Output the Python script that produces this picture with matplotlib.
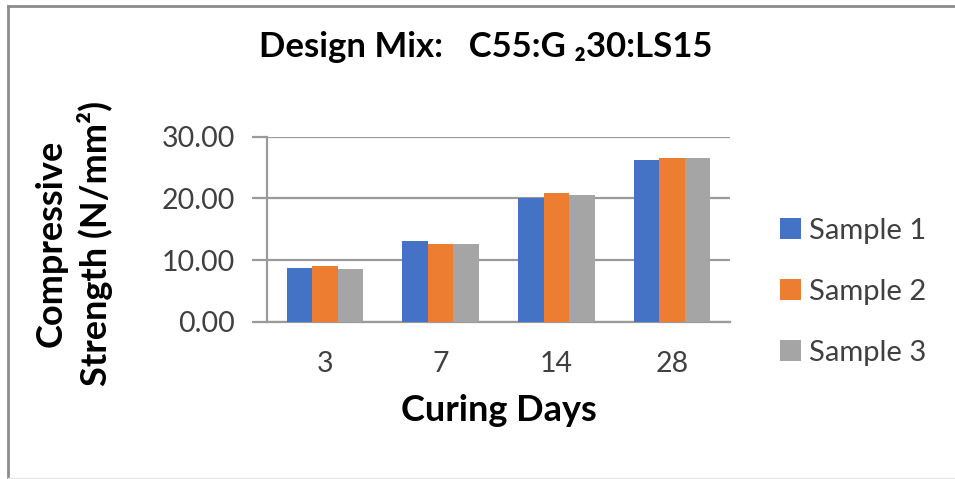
import matplotlib
matplotlib.use("Agg")
import matplotlib.pyplot as plt
import numpy as np
from matplotlib.lines import Line2D

plt.rcParams['font.family'] = ['Lato', 'DejaVu Sans']

# Data
curing_days = ["3", "7", "14", "28"]
series_names = ["Sample 1", "Sample 2", "Sample 3"]
sample_1 = [8.70, 13.10, 20.05, 26.15]
sample_2 = [9.10, 12.70, 20.90, 26.50]
sample_3 = [8.65, 12.70, 20.50, 26.50]
y_ticks = [0, 10, 20, 30]

colors = ["#4472C4", "#ED7D31", "#A5A5A5"]
grid_color = "#9a9a9a"
text_color = "#404040"

W, H = 955, 479
fig = plt.figure(figsize=(W / 100, H / 100), dpi=100)
fig.patch.set_facecolor("white")

# Chart-area frame (left, top, faint bottom)
fig.add_artist(Line2D([8 / W, 8 / W], [1 - 6 / H, 1 - 477 / H], transform=fig.transFigure,
                      color="#8c8c8c", lw=2.0))
fig.add_artist(Line2D([8 / W, 1.0], [1 - 6 / H, 1 - 6 / H], transform=fig.transFigure,
                      color="#8c8c8c", lw=2.0))
fig.add_artist(Line2D([8 / W, 1.0], [1 - 477.5 / H, 1 - 477.5 / H], transform=fig.transFigure,
                      color="#e6e6e6", lw=1.0))

left, right, top, bottom = 267, 730, 136.7, 322
ax = fig.add_axes([left / W, 1 - bottom / H, (right - left) / W, (bottom - top) / H])

x = np.arange(len(curing_days))
bw = 0.22
for i, (vals, name) in enumerate(zip([sample_1, sample_2, sample_3], series_names)):
    ax.bar(x + (i - 1) * bw, vals, width=bw, color=colors[i], label=name, zorder=3)

ax.set_xlim(-0.5, len(curing_days) - 0.5)
ax.set_ylim(0, 30)
ax.set_yticks(y_ticks)
ax.set_yticklabels([f"{v:.2f}" for v in y_ticks], fontsize=20.5, color=text_color)
ax.set_xticks(x)
ax.set_xticklabels(curing_days, fontsize=20.5, color=text_color)

ax.yaxis.grid(True, color=grid_color, lw=1.6, zorder=0)
ax.set_axisbelow(True)
for s in ["top", "right"]:
    ax.spines[s].set_visible(False)
ax.spines["left"].set_color(grid_color)
ax.spines["left"].set_linewidth(1.6)
ax.spines["bottom"].set_color(grid_color)
ax.spines["bottom"].set_linewidth(1.6)
ax.tick_params(axis="y", length=11, width=1.6, color=grid_color, pad=12)
ax.tick_params(axis="x", length=0, pad=21)

ax.set_xlabel("Curing Days", fontsize=26, fontweight="bold", color="black", labelpad=12)

fig.text(74 / W, 1 - 243 / H, "Compressive\nStrength (N/mm\u00b2)", rotation=90,
         ha="center", va="center", fontsize=26, fontweight="bold", color="black",
         multialignment="center", linespacing=1.3)

fig.text(486 / W, 1 - 47 / H, "Design Mix:   C55:G \u208230:LS15", ha="center", va="center",
         fontsize=25, fontweight="bold", color="black")

ax.legend(loc="center left", bbox_to_anchor=(754 / W, 1 - 292 / H), bbox_transform=fig.transFigure,
          frameon=False, fontsize=21, handlelength=0.72, handleheight=0.72, handletextpad=0.25,
          labelspacing=1.2, labelcolor=text_color)

fig.savefig("out.png", dpi=100, facecolor="white")
